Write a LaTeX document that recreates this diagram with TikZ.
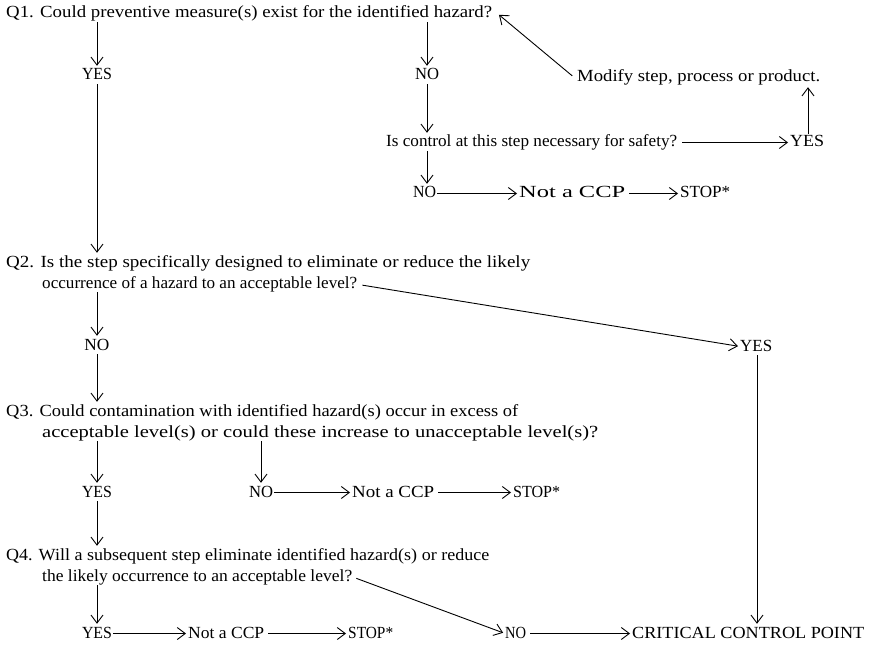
\documentclass[tikz,border=0pt]{standalone}
\usepackage{fontspec}
\setmainfont{Liberation Serif}
\usetikzlibrary{arrows.meta}
% text squeezed or stretched horizontally to a given width (in pt)
\newcommand{\fitw}[2]{\resizebox{#1pt}{\height}{#2}}
\tikzset{
  lbl/.style={inner sep=0pt, text height=12pt, text depth=3pt,
    font=\fontsize{17}{19}\selectfont},
  arr/.style={-{Straight Barb[length=8pt,width=12pt]}, line width=0.9pt,
    shorten >=2pt, shorten <=1pt},
}
\begin{document}
\begin{tikzpicture}[x=1pt,y=-1pt]
\useasboundingbox (0,0) rectangle (871,650);
% ---- Q1 ----
\node[lbl,anchor=base west] (q1) at (6,18) {\fitw{486}{Q1. Could preventive measure(s) exist for the identified hazard?}};
\node[lbl,anchor=base] (yes1) at (97,80) {\fitw{30}{YES}};
\node[lbl,anchor=base] (no1) at (427,80) {\fitw{24}{NO}};
\node[lbl,anchor=base west] (mod) at (577,82) {\fitw{243}{Modify step, process or product.}};
\node[lbl,anchor=base west] (ctl) at (386,147) {\fitw{291}{Is control at this step necessary for safety?}};
\node[lbl,anchor=base west] (yes2) at (790,147) {\fitw{34}{YES}};
\node[lbl,anchor=base west] (no2) at (413,198) {\fitw{23}{NO}};
\node[lbl,anchor=base west] (ncc1) at (519,198) {\fitw{106}{Not a CCP}};
\node[lbl,anchor=base west] (stop1) at (680,198) {\fitw{50}{STOP*}};
% ---- Q2 ----
\node[lbl,anchor=base west] (q2a) at (6,267) {\fitw{524}{Q2. Is the step specifically designed to eliminate or reduce the likely}};
\node[lbl,anchor=base west] (q2b) at (42,288) {\fitw{315}{occurrence of a hazard to an acceptable level?}};
\node[lbl,anchor=base] (no3) at (97,350) {\fitw{25}{NO}};
\node[lbl,anchor=base west] (yes3) at (740,351) {\fitw{32}{YES}};
% ---- Q3 ----
\node[lbl,anchor=base west] (q3a) at (6,416) {\fitw{512}{Q3. Could contamination with identified hazard(s) occur in excess of}};
\node[lbl,anchor=base west] (q3b) at (42,437) {\fitw{556}{acceptable level(s) or could these increase to unacceptable level(s)?}};
\node[lbl,anchor=base] (yes4) at (97,497) {\fitw{30}{YES}};
\node[lbl,anchor=base west] (no4) at (249,497) {\fitw{24}{NO}};
\node[lbl,anchor=base west] (ncc2) at (352,497) {\fitw{82}{Not a CCP}};
\node[lbl,anchor=base west] (stop2) at (513,497) {\fitw{47}{STOP*}};
% ---- Q4 ----
\node[lbl,anchor=base west] (q4a) at (6,560) {\fitw{483}{Q4. Will a subsequent step eliminate identified hazard(s) or reduce}};
\node[lbl,anchor=base west] (q4b) at (42,581) {\fitw{310}{the likely occurrence to an acceptable level?}};
\node[lbl,anchor=base] (yes5) at (97,638) {\fitw{30}{YES}};
\node[lbl,anchor=base west] (ncc3) at (188,638) {\fitw{76}{Not a CCP}};
\node[lbl,anchor=base west] (stop3) at (348,638) {\fitw{45}{STOP*}};
\node[lbl,anchor=base west] (no5) at (505,638) {\fitw{21}{NO}};
\node[lbl,anchor=base west] (ccp) at (632,638) {\fitw{232}{CRITICAL CONTROL POINT}};

% ---- connectors ----
\draw[arr] (yes1 |- q1.south) -- (yes1.north);
\draw[arr] (no1 |- q1.south) -- (no1.north);
\draw[arr] ([shift={(-4,-1)}]mod.west) -- ([shift={(5,0)}]q1.east);
\draw[arr] (no1.south) -- (no1 |- ctl.north);
\draw[arr] ([xshift=4pt]ctl.east) -- (yes2.west);
\draw[arr] ([xshift=18pt]yes2.north west) -- ([xshift=18pt]yes2.west |- mod.south);
\draw[arr] (no1 |- ctl.south) -- (no1 |- no2.north);
\draw[arr] (no2.east) -- (ncc1.west);
\draw[arr] ([xshift=3pt]ncc1.east) -- (stop1.west);
\draw[arr] (yes1.south) -- (yes1 |- q2a.north);
\draw[arr] ([shift={(4,-3)}]q2b.base east) -- (yes3.west);
\draw[arr] (no3 |- q2b.south) -- (no3.north);
\draw[arr] (no3.south) -- (no3 |- q3a.north);
\draw[arr] (yes4 |- q3b.south) -- (yes4.north);
\draw[arr] ([xshift=12pt]no4.west |- q3b.south) -- ([xshift=12pt]no4.north west);
\draw[arr] (no4.east) -- (ncc2.west);
\draw[arr] ([xshift=3pt]ncc2.east) -- (stop2.west);
\draw[arr] (yes4.south) -- (yes4 |- q4a.north);
\draw[arr] (yes5 |- q4b.south) -- (yes5.north);
\draw[arr] (yes5.east) -- (ncc3.west);
\draw[arr] ([xshift=3pt]ncc3.east) -- (stop3.west);
\draw[arr] ([shift={(3,-3)}]q4b.base east) -- (no5.west);
\draw[arr] ([xshift=3pt]no5.east) -- (ccp.west);
\draw[arr] ([xshift=17pt]yes3.south west) -- ([xshift=17pt]yes3.west |- ccp.north);
\end{tikzpicture}
\end{document}
